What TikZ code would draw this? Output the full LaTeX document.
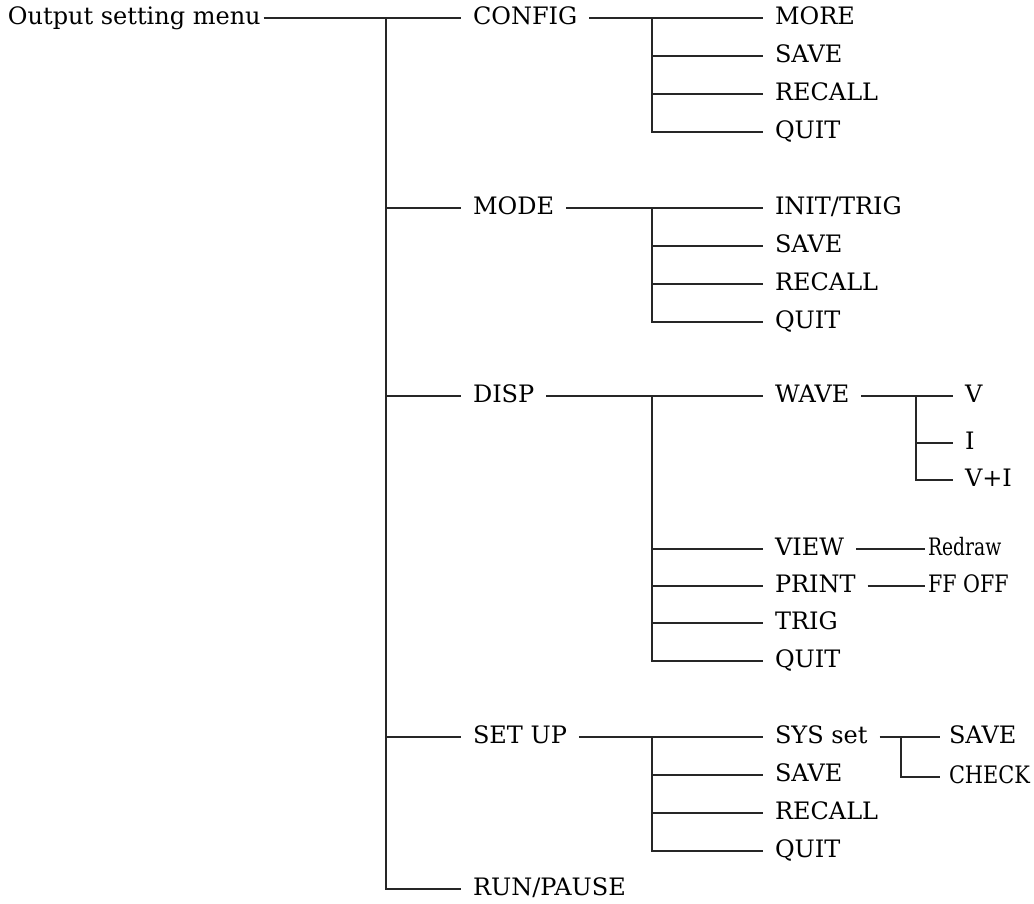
\documentclass[tikz,border=0pt]{standalone}
\usepackage{fontspec}
\setmainfont{DejaVu Serif}
\usetikzlibrary{positioning}
\tikzset{
  menu/.style={anchor=west,inner sep=0pt,outer xsep=12pt,text height=17.5pt,text depth=4pt,
    font=\fontsize{24}{28}\selectfont},
  link/.style={line width=2.2pt,draw=black!85},
}
\begin{document}
\begin{tikzpicture}[x=1pt,y=-1pt]
  \useasboundingbox (0,0) rectangle (1034,904);
  % root and first level
  \node[menu,outer xsep=3pt] (root) at (5,18) {Output setting menu};
  \node[menu] (config) at (461,18) {CONFIG};
  \node[menu] (mode) at (461,208) {MODE};
  \node[menu] (disp) at (461,396) {DISP};
  \node[menu] (setup) at (461,737) {SET UP};
  \node[menu] (run) at (461,889) {RUN/PAUSE};
  \coordinate (trunk) at (386,18);
  \draw[link] (root.east) -- (config.west);
  \draw[link] (trunk) |- (run.west);
  \foreach \n in {mode,disp,setup}
    \draw[link] (trunk |- \n.west) -- (\n.west);
  % second level
  \node[menu] (more) at (763,18) {MORE};
  \node[menu] (cfgsave) at (763,56) {SAVE};
  \node[menu] (cfgrecall) at (763,94) {RECALL};
  \node[menu] (cfgquit) at (763,132) {QUIT};
  \node[menu] (init) at (763,208) {INIT/TRIG};
  \node[menu] (modesave) at (763,246) {SAVE};
  \node[menu] (moderecall) at (763,284) {RECALL};
  \node[menu] (modequit) at (763,322) {QUIT};
  \node[menu] (wave) at (763,396) {WAVE};
  \node[menu] (view) at (763,549) {VIEW};
  \node[menu] (print) at (763,586) {PRINT};
  \node[menu] (trig) at (763,623) {TRIG};
  \node[menu] (dispquit) at (763,661) {QUIT};
  \node[menu] (sys) at (763,737) {SYS set};
  \node[menu] (setsave) at (763,775) {SAVE};
  \node[menu] (setrecall) at (763,813) {RECALL};
  \node[menu] (setquit) at (763,851) {QUIT};
  \coordinate (fork) at (652,0);
  \draw[link] (config.east) -- (more.west);
  \draw[link] (fork |- more.west) |- (cfgquit.west);
  \foreach \n in {cfgsave,cfgrecall} \draw[link] (fork |- \n.west) -- (\n.west);
  \draw[link] (mode.east) -- (init.west);
  \draw[link] (fork |- init.west) |- (modequit.west);
  \foreach \n in {modesave,moderecall} \draw[link] (fork |- \n.west) -- (\n.west);
  \draw[link] (disp.east) -- (wave.west);
  \draw[link] (fork |- wave.west) |- (dispquit.west);
  \foreach \n in {view,print,trig} \draw[link] (fork |- \n.west) -- (\n.west);
  \draw[link] (setup.east) -- (sys.west);
  \draw[link] (fork |- sys.west) |- (setquit.west);
  \foreach \n in {setsave,setrecall} \draw[link] (fork |- \n.west) -- (\n.west);
  % third level
  \node[menu] (v) at (953,396) {V};
  \node[menu] (i) at (953,443) {I};
  \node[menu] (vi) at (953,480) {V+I};
  \coordinate (wavefork) at (916,0);
  \draw[link] (wave.east) -- (v.west);
  \draw[link] (wavefork |- v.west) |- (vi.west);
  \draw[link] (wavefork |- i.west) -- (i.west);
  \node[menu,outer xsep=3pt] (redraw) at (925,549) {\scalebox{0.78}[1]{Redraw}};
  \node[menu,outer xsep=3pt] (ffoff) at (925,586) {\scalebox{0.86}[1]{FF OFF}};
  \draw[link] (view.east) -- (redraw.west);
  \draw[link] (print.east) -- (ffoff.west);
  \node[menu,outer xsep=9pt] (syssave) at (940,737) {SAVE};
  \node[menu,outer xsep=9pt] (check) at (940,777) {\scalebox{0.87}[1]{CHECK}};
  \coordinate (sysfork) at (901,0);
  \draw[link] (sys.east) -- (syssave.west);
  \draw[link] (sysfork |- syssave.west) |- (check.west);
\end{tikzpicture}
\end{document}
